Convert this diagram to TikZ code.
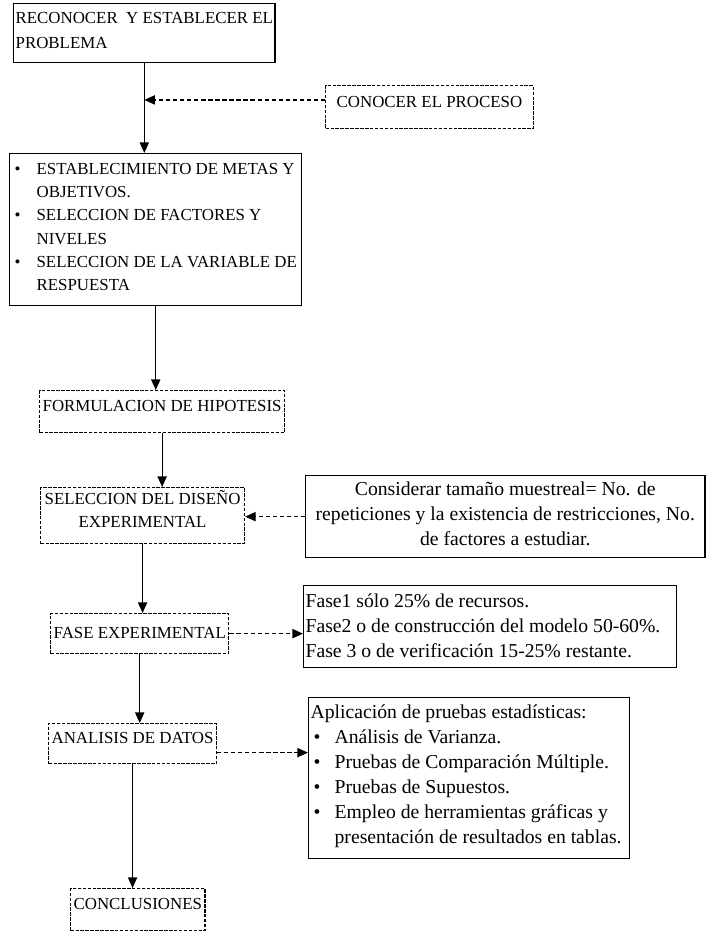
\documentclass[tikz,border=0pt]{standalone}
\usepackage{fontspec}
\setmainfont{Liberation Serif}
\usetikzlibrary{arrows.meta}

\newcommand{\upfont}{\fontsize{12}{16.6}\selectfont}
\newcommand{\lowfont}{\fontsize{14}{17.7}\selectfont}

\begin{document}
\begin{tikzpicture}[
    box/.style={draw, line width=0.9pt, anchor=north west, inner ysep=0pt, inner xsep=0.075cm, font=\upfont},
    dbox/.style={box, dash pattern=on 2.5pt off 1pt},
    flow/.style={-{Triangle[length=7.5pt,width=6.5pt]}, line width=0.9pt},
    side/.style={flow, densely dashed}
  ]
    \useasboundingbox (0,0) rectangle (17.825,-23.275);

    % main column
    \node[box, inner xsep=0.05cm, font=\fontsize{12}{18.4}\selectfont, text height=0.4875cm, text depth=0.9875cm] (reco) at (0.325,-0.075)
      {\begin{tabular}[t]{@{}l@{}}RECONOCER\ \ Y ESTABLECER EL\\ PROBLEMA\end{tabular}};
    \node[box, inner xsep=0.125cm, text height=0.5125cm, text depth=3.2875cm] (metas) at (0.225,-3.825)
      {\begin{tabular}[t]{@{}p{0.55cm}@{}l@{}}
        \textbullet & ESTABLECIMIENTO DE METAS Y\\
                    & OBJETIVOS.\\
        \textbullet & SELECCION DE FACTORES Y\\
                    & NIVELES\\
        \textbullet & SELECCION DE LA VARIABLE DE\\
                    & RESPUESTA
      \end{tabular}};
    \node[dbox, text height=0.5125cm, text depth=0.5375cm] (hipo) at (0.975,-9.75) {FORMULACION DE HIPOTESIS};
    \node[dbox, inner xsep=0.1cm, text height=0.41cm, text depth=0.99cm] (dis) at (1.0,-12.175)
      {\begin{tabular}[t]{@{}c@{}}SELECCION DEL DISEÑO\\ EXPERIMENTAL\end{tabular}};
    \node[dbox, text height=0.625cm, text depth=0.375cm] (exp) at (1.25,-15.325) {FASE EXPERIMENTAL};
    \node[dbox, text height=0.5cm, text depth=0.5cm] (ana) at (1.2,-18.075) {ANALISIS DE DATOS};
    \node[dbox, text height=0.5125cm, text depth=0.5375cm] (conc) at (1.75,-22.2) {CONCLUSIONES};

    % side boxes
    \node[dbox, inner xsep=0.275cm, text height=0.5375cm, text depth=0.5375cm] (proc) at (8.125,-2.125) {CONOCER EL PROCESO};
    \node[box, inner xsep=0.25cm, font=\lowfont, text height=0.5cm, text depth=1.55cm] (tam) at (7.625,-11.875)
      {\begin{tabular}[t]{@{}c@{}}Considerar tamaño muestreal= No. de\\ repeticiones y la existencia de restricciones, No.\\ de factores a estudiar.\end{tabular}};
    \node[box, inner xsep=0.05cm, font=\lowfont, text height=0.55cm, text depth=1.5cm] (fases) at (7.575,-14.625)
      {\begin{tabular}[t]{@{}l@{\hspace{0.35cm}}}Fase1 sólo 25\% de recursos.\\ Fase2 o de construcción del modelo 50-60\%.\\ Fase 3 o de verificación 15-25\% restante.\end{tabular}};
    \node[box, inner xsep=0.05cm, font=\lowfont, text height=0.525cm, text depth=3.5cm] (apl) at (7.7,-17.425)
      {\begin{tabular}[t]{@{}p{0.6cm}@{}l@{\hspace{0.15cm}}}
        \multicolumn{2}{@{}l@{}}{Aplicación de pruebas estadísticas:}\\
        \hspace*{0.075cm}\textbullet & Análisis de Varianza.\\
        \hspace*{0.075cm}\textbullet & Pruebas de Comparación Múltiple.\\
        \hspace*{0.075cm}\textbullet & Pruebas de Supuestos.\\
        \hspace*{0.075cm}\textbullet & Empleo de herramientas gráficas y\\
                                     & presentación de resultados en tablas.
      \end{tabular}};

    % connectors
    \draw[flow] (reco.south) -- (reco.south |- metas.north);
    \draw[side] ([yshift=0.18cm]proc.west) -- ([yshift=0.18cm]proc.west -| reco.south);
    \draw[flow] (metas.south) -- (metas.south |- hipo.north);
    \draw[flow] (hipo.south) -- (hipo.south |- dis.north);
    \draw[side] (tam.west) -- (tam.west -| dis.east);
    \draw[flow] (dis.south) -- (dis.south |- exp.north);
    \draw[side] (exp.east) -- (exp.east -| fases.west);
    \draw[flow] (exp.south) -- (exp.south |- ana.north);
    \draw[side] ([yshift=-0.225cm]ana.east) -- ([yshift=-0.225cm]ana.east -| apl.west);
    \draw[flow] (ana.south) -- (ana.south |- conc.north);
\end{tikzpicture}
\end{document}
